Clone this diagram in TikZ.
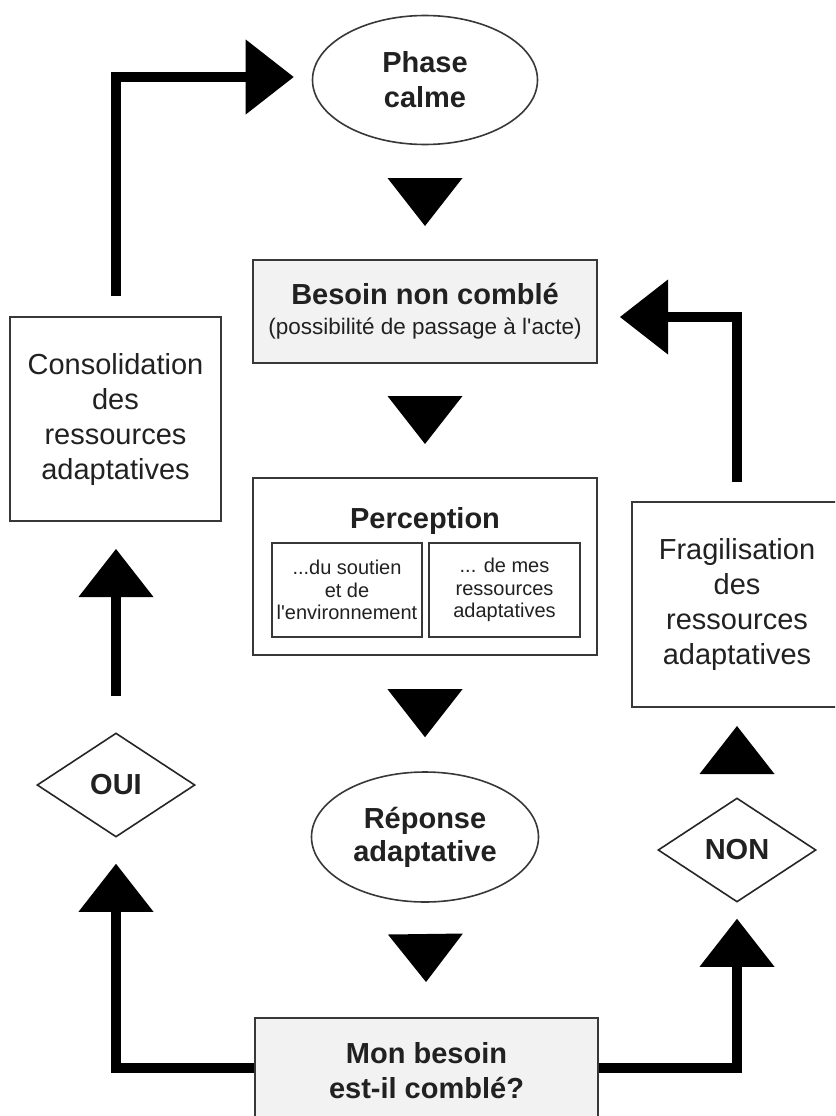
\documentclass[tikz,border=0pt]{standalone}
\usepackage{fontspec}
\setmainfont{Liberation Sans}[Ligatures=TeXOff]
\usetikzlibrary{shapes.geometric,arrows.meta,calc}

\begin{document}
\begin{tikzpicture}[x=1pt,y=-1pt,
  every node/.style={text=black!87, align=center, inner sep=0pt},
  boxborder/.style={draw=black!78, line width=2pt},
  box/.style={boxborder, rectangle, fill=white},
  greybox/.style={boxborder, rectangle, fill=black!5},
  oval/.style={boxborder, ellipse, line width=1.6pt, fill=white},
  choice/.style={draw=black!85, diamond, line width=1.6pt, fill=white, minimum width=158pt, minimum height=104pt},
  bigtxt/.style={font=\fontsize{29}{35}\selectfont},
  boldtxt/.style={font=\fontsize{29}{35}\selectfont\bfseries},
  smalltxt/.style={font=\fontsize{20}{22.5}\selectfont},
  flow/.style={line width=10pt, black, -{Triangle[length=48pt,width=75pt,line width=0pt]}},
  gap/.style={line width=0.1pt, black, -{Triangle[length=48pt,width=75pt,line width=0pt]}}
]
\useasboundingbox (0,0) rectangle (835,1116);
\clip (0,0) rectangle (835,1116);
\fill[white] (0,0) rectangle (835,1116);

% central column
\node[oval, boldtxt, minimum width=225pt, minimum height=129pt] (phase) at (425,80) {Phase\\calme};
\node[greybox, minimum width=344pt, minimum height=103pt, font=\fontsize{22.5}{30}\selectfont] (besoin) at (425,311.5)
  {{\fontsize{29}{30}\selectfont\bfseries Besoin non comblé}\\(possibilité de passage à l'acte)};
\node[box, minimum width=344pt, minimum height=177pt] (percep) at (425,566.5) {};
\node[boldtxt, anchor=base] (perctitle) at (425,528) {Perception};
\node[box, smalltxt, line width=1.6pt, minimum width=150pt, minimum height=94pt] (percA) at (347,590) {...du soutien\\et de\\l'environnement};
\node[box, smalltxt, line width=1.6pt, minimum width=151pt, minimum height=94pt] (percB) at (504.5,590) {... de mes\\ressources\\adaptatives};
\node[oval, minimum width=227pt, minimum height=130pt, font=\fontsize{29}{33}\selectfont\bfseries] (reponse) at (425,837) {Réponse\\adaptative};
\node[greybox, boldtxt, minimum width=343pt, minimum height=106pt] (monbesoin) at (426.5,1071) {Mon besoin\\est-il comblé?};

% side boxes
\node[box, bigtxt, minimum width=211pt, minimum height=204pt] (consol) at (115.5,419) {Consolidation\\des\\ressources\\adaptatives};
\node[box, bigtxt, minimum width=210pt, minimum height=205pt] (frag) at (737,604.5) {Fragilisation\\des\\ressources\\adaptatives};
\node[choice, boldtxt] (oui) at (116,785) {OUI};
\node[choice, boldtxt] (non) at (737,850) {NON};

% central arrowheads
\draw[gap, shorten <=34pt, shorten >=33pt] (phase.south) -- (besoin.north);
\draw[gap, shorten <=33pt, shorten >=33pt] (besoin.south) -- (percep.north);
\draw[gap, shorten <=34pt, shorten >=34pt] (percep.south) -- (reponse.north);
\draw[gap, shorten <=33pt, shorten >=35pt] (reponse.south) -- (monbesoin.north);

% left loop
\draw[flow, shorten >=26pt] ($(monbesoin.west)+(0,-3)$) -| (oui.south);
\draw[flow, shorten <=36pt, shorten >=27pt] (oui.north) -- (oui.north |- consol.south);
\draw[flow, shorten <=20pt, shorten >=18pt] (consol.north) |- ($(phase.west)+(0,-3)$);

% right loop
\draw[flow, shorten >=16pt] ($(monbesoin.east)+(0,-3)$) -| (non.south);
\draw[gap, shorten <=26pt, shorten >=18pt] (non.north) -- (frag.south);
\draw[flow, shorten <=19pt, shorten >=22pt] (frag.north) |- ($(besoin.east)+(0,5.5)$);
\end{tikzpicture}
\end{document}
